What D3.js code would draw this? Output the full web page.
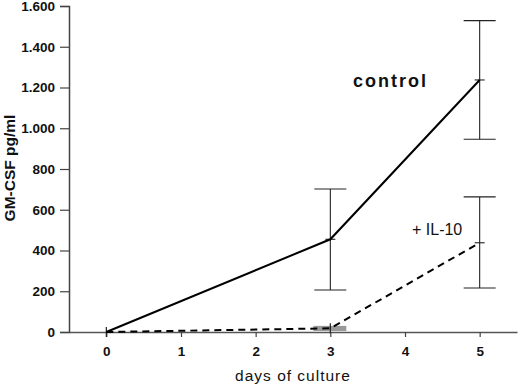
<!DOCTYPE html>
<html>
<head>
<meta charset="utf-8">
<script src="https://cdn.jsdelivr.net/npm/d3@7"></script>
<style>
  body { margin: 0; background: #fff; }
  text { font-family: "Liberation Sans", Arial, sans-serif; fill: #111; }
</style>
</head>
<body>
<svg width="520" height="387"></svg>
<script>
const days = [0, 3, 5];
const controlMean = [0, 455, 1237];
const controlLow = [0, 206, 946];
const controlHigh = [0, 702, 1528];
const il10Mean = [0, 18, 438];
const il10Low = [0, 5, 216];
const il10High = [0, 30, 663];
const xTicks = [0, 1, 2, 3, 4, 5];
const xTickLabels = ['0', '1', '2', '3', '4', '5'];
const yTicks = [0, 200, 400, 600, 800, 1000, 1200, 1400, 1600];
const yTickLabels = ['0', '200', '400', '600', '800', '1.000', '1.200', '1.400', '1.600'];

let svg = d3.select('svg');
let padLeft = 69, padRight = 517, padTop = 6, padBottom = 332;

let x = d3.scaleLinear().domain([-0.5, 5.5]).range([padLeft, padRight]);
let y = d3.scaleLinear().domain([0, 1600]).range([padBottom, padTop]);

// y axis
let yAxis = d3.axisLeft(y).tickValues(yTicks)
    .tickFormat((d, i) => yTickLabels[i]).tickSize(9).tickPadding(5);
let yg = svg.append('g').attr('transform', `translate(${padLeft},0)`).call(yAxis);
yg.select('.domain').attr('stroke', '#444').attr('stroke-width', 1.5);
yg.selectAll('.tick line').attr('stroke', '#444').attr('stroke-width', 1.2);
yg.selectAll('.tick text').style('font-size', '13.5px').style('font-weight', 'bold').attr('fill', '#111');

// x axis
let xAxis = d3.axisBottom(x).tickValues(xTicks).tickFormat((d, i) => xTickLabels[i])
    .tickSize(5).tickPadding(9).tickSizeOuter(0);
let xg = svg.append('g').attr('transform', `translate(0,${padBottom})`).call(xAxis);
xg.select('.domain').attr('stroke', '#555').attr('stroke-width', 1.5);
xg.selectAll('.tick line').attr('stroke', '#444').attr('stroke-width', 1.2);
xg.selectAll('.tick text').style('font-size', '13.5px').style('font-weight', 'bold').attr('fill', '#111');

// axis titles
svg.append('text').attr('x', 293).attr('y', 381)
    .attr('text-anchor', 'middle').style('font-size', '15.5px').style('letter-spacing', '1px')
    .text('days of culture');
svg.append('text').attr('transform', `translate(15,${168}) rotate(-90)`)
    .attr('text-anchor', 'middle').style('font-size', '15.5px').style('font-weight', 'bold')
    .text('GM-CSF pg/ml');

// small gray bar for IL-10 day 3 error
svg.append('rect')
    .attr('x', x(3) - 17).attr('width', 33)
    .attr('y', y(il10High[1])).attr('height', y(il10Low[1]) - y(il10High[1]))
    .attr('fill', '#999');

// error bars
function errorBars(lo, hi, mean) {
  days.forEach((d, i) => {
    if (hi[i] - lo[i] < 50) return;
    let g = svg.append('g').attr('stroke', '#222').attr('stroke-width', 1.1);
    g.append('line').attr('x1', x(d)).attr('x2', x(d)).attr('y1', y(lo[i])).attr('y2', y(hi[i]));
    g.append('line').attr('x1', x(d) - 16).attr('x2', x(d) + 16).attr('y1', y(lo[i])).attr('y2', y(lo[i]));
    g.append('line').attr('x1', x(d) - 16).attr('x2', x(d) + 16).attr('y1', y(hi[i])).attr('y2', y(hi[i]));
    g.append('line').attr('x1', x(d) - 5).attr('x2', x(d) + 5).attr('y1', y(mean[i])).attr('y2', y(mean[i]));
  });
}
errorBars(controlLow, controlHigh, controlMean);
errorBars(il10Low, il10High, il10Mean);

// mean markers at day 0 and day 3 IL-10
[[0, 0], [3, il10Mean[1]]].forEach(p => {
  svg.append('line').attr('x1', x(p[0])).attr('x2', x(p[0]))
    .attr('y1', y(p[1]) - 5).attr('y2', y(p[1]) + 5).attr('stroke', '#222').attr('stroke-width', 1.2);
});

let line = d3.line().x((d, i) => x(days[i])).y(d => y(d));

svg.append('path').datum(controlMean).attr('d', line)
    .attr('fill', 'none').attr('stroke', '#000').attr('stroke-width', 2);
svg.append('path').datum(il10Mean).attr('d', line)
    .attr('fill', 'none').attr('stroke', '#000').attr('stroke-width', 2)
    .attr('stroke-dasharray', '7,5');

// labels
svg.append('text').attr('x', 353).attr('y', 87)
    .style('font-size', '18px').style('font-weight', 'bold').style('letter-spacing', '2px')
    .text('control');
svg.append('text').attr('x', 412).attr('y', 235)
    .style('font-size', '16px')
    .text('+ IL-10');
</script>
</body>
</html>
